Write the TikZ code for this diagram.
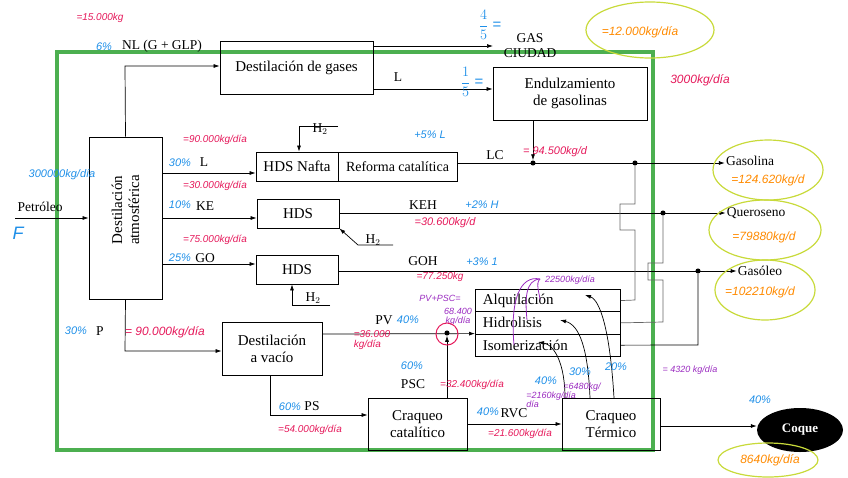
\documentclass[tikz,border=0pt]{standalone}
\usepackage{fontspec}
\setmainfont{Liberation Serif}
\newfontfamily\hand{Liberation Sans}
\usetikzlibrary{arrows.meta,shapes.geometric}
\definecolor{hb}{HTML}{1E8FE8}
\definecolor{hp}{HTML}{E5185A}
\definecolor{ho}{HTML}{FF8A00}
\definecolor{hv}{HTML}{9A2BC0}
\definecolor{hy}{HTML}{C8DA3A}
\definecolor{gr}{HTML}{4CAF50}
\begin{document}
\begin{tikzpicture}[x=1pt,y=-1pt,
  box/.style={draw,line width=0.8pt,inner sep=0pt,align=center,font=\fontsize{15}{17}\selectfont},
  lbl/.style={inner sep=1pt,font=\fontsize{13.5}{15}\selectfont},
  ln/.style={line width=0.7pt},
  ar/.style={line width=0.7pt,-{Latex[length=6pt,width=4pt]}},
  gl/.style={line width=0.7pt,draw=black!60},
  dot/.style={circle,fill,inner sep=1.8pt},
  B/.style={text=hb,inner sep=0pt,font=\hand\itshape\fontsize{11}{11}\selectfont},
  P/.style={text=hp,inner sep=0pt,font=\hand\itshape\fontsize{10}{10}\selectfont},
  O/.style={text=ho,inner sep=0pt,font=\hand\itshape\fontsize{12}{12}\selectfont},
  V/.style={text=hv,inner sep=0pt,font=\hand\itshape\fontsize{9}{9}\selectfont},
  ov/.style={draw=hy,line width=1.2pt}]
\useasboundingbox (0,0) rectangle (848,477);
% green frame
\draw[gr,line width=3.5pt] (57,52) rectangle (653,450);
% boxes
\node[box,minimum width=153pt,minimum height=53pt] (dg) at (296.5,67.5) {Destilación de gases};
\node[box,minimum width=154pt,minimum height=53pt] (en) at (570,93.5) {Endulzamiento\\de gasolinas};
\node[box,minimum width=73pt,minimum height=162pt] (da) at (125.5,218) {};
\node[rotate=90,align=center,font=\fontsize{15}{17}\selectfont] (dat) at (125.5,210) {Destilación\\atmosférica};
\node[box,minimum width=82pt,minimum height=29pt] (hn) at (297,166.5) {HDS Nafta};
\node[box,minimum width=119pt,minimum height=29pt,font=\fontsize{14}{16}\selectfont] (rc) at (397.5,166.5) {Reforma catalítica};
\node[box,minimum width=82pt,minimum height=29pt] (h1) at (298,213.5) {HDS};
\node[box,minimum width=82pt,minimum height=29pt] (h2) at (297,269.5) {HDS};
\node[box,minimum width=100pt,minimum height=53pt] (dv) at (272,348.5) {Destilación\\a vacío};
\node[box,minimum width=99pt,minimum height=52pt] (cc) at (417.5,424) {Craqueo\\catalítico};
\node[box,minimum width=98pt,minimum height=52pt] (ct) at (611,424) {Craqueo\\Térmico};
\node[box,minimum width=145pt,minimum height=22.3pt,anchor=north west,text width=140pt,align=left] (al) at (475,289) {~Alquilación};
\node[box,minimum width=145pt,minimum height=22.3pt,anchor=north west,text width=140pt,align=left] (hi) at (475,311.3) {~Hidrolisis};
\node[box,minimum width=145pt,minimum height=22.3pt,anchor=north west,text width=140pt,align=left] (is) at (475,333.6) {~Isomerización};
\node[ellipse,fill=black,minimum width=86pt,minimum height=44pt,text=white,font=\bfseries\fontsize{13}{15}\selectfont] (co) at (800,430) {Coque};
% labels
\node[lbl] (gas) at (750,161) {Gasolina};
\node[lbl] (que) at (756,213) {Queroseno};
\node[lbl] (gso) at (760,271) {Gasóleo};
\node[lbl,align=center] (gc) at (530,46) {GAS\\CIUDAD};
\node[lbl] (pet) at (40,207) {Petróleo};
\node[lbl] at (162,46) {NL (G + GLP)};
\node[lbl] at (398,77) {L};
\node[lbl] at (204,162) {L};
\node[lbl] at (205,206) {KE};
\node[lbl] at (205,258) {GO};
\node[lbl] at (100,331) {P};
\node[lbl] at (495,155) {LC};
\node[lbl] at (423,205) {KEH};
\node[lbl] at (423,261) {GOH};
\node[lbl] at (384,320) {PV};
\node[lbl] at (413,384) {PSC};
\node[lbl] at (312,406) {PS};
\node[lbl] at (514,413) {RVC};
\node[lbl] at (320,129) {H$_2$};
\node[lbl] at (373,240) {H$_2$};
\node[lbl] at (313,298) {H$_2$};
% coordinates
\coordinate (pin) at (15,218);
\coordinate (dl) at (533,163);
\coordinate (dq) at (663,213);
\coordinate (dgo) at (698,271);
\coordinate (dp) at (447,333);
\node[dot] (d1) at (dl) {};
\node[dot] (d2) at (635,163) {};
\node[dot] (d3) at (dq) {};
\node[dot] (d4) at (dgo) {};
\node[dot] (d5) at (dp) {};
% connectors
\draw[ar] (pin) -- (da.west |- pin);
\draw[ar] (da.north) -- (125,66) -- (dg.west |- 0,66);
\draw[ar] (dg.east |- 0,46) -- (493,46);
\draw[ar] (dg.east |- 0,89) -- (en.west |- 0,89);
\draw[ar] (en.south -| dl) -- (d1);
\draw[ar] (da.east |- 0,173) -- (hn.west |- 0,173);
\draw[ar] (rc.east |- 0,163) -- (gas.west |- 0,163);
\draw[ar] (da.east |- 0,218) -- (h1.west |- 0,218);
\draw[ar] (h1.east |- 0,213) -- (que.west |- 0,213);
\draw[ar] (da.east |- 0,264) -- (h2.west |- 0,264);
\draw[ar] (h2.east |- 0,271) -- (gso.west |- 0,271);
\draw[ar] (da.south) -- (125,351) -- (dv.west |- 0,351);
\draw[ar] (dv.east |- 0,334) -- (is.north west);
\draw[ar] (cc.north -| dp) -- (d5);
\draw[ar] (dv.south -| 270,0) -- (270,415) -- (cc.west |- 0,415);
\draw[ar] (cc.east |- 0,424) -- (ct.west |- 0,424);
\draw[ar] (ct.east |- 0,426) -- (co.west |- 0,426);
\draw[ar] (338,126) -- (299,126) -- (hn.north -| 299,0);
\draw[ar] (393,245) -- (358,245) -- (h1.south east);
\draw[ar] (330,305) -- (292,305) -- (h2.south -| 292,0);
% recycle lines
\draw[gl] (al.east) -- (635,300) -- (635,230) -- (620,230) -- (620,204) -- (635,204) -- (d2);
\draw[gl] (hi.east) -- (663,322) -- (663,280) -- (648,280) -- (648,263) -- (663,263) -- (d3);
\draw[ln] (is.east) -- (698,345) -- (d4);
% curved arrows from thermal cracking
\draw[ar] (614,398) .. controls (610,330) and (600,300) .. (585,295);
\draw[ar] (590,398) .. controls (588,350) and (580,325) .. (560,320);
\draw[ar] (565,398) .. controls (565,365) and (555,345) .. (538,342);
% hand annotations
\node[P] at (100,18) {=15.000kg};
\node[P] at (215,140) {=90.000kg/día};
\node[P] at (215,186) {=30.000kg/día};
\node[P] at (215,240) {=75.000kg/día};
\node[P,font=\hand\itshape\fontsize{12}{12}\selectfont] at (165,332) {= 90.000kg/día};
\node[P,align=left] at (372,340) {=36.000\\kg/día};
\node[P] at (310,430) {=54.000kg/día};
\node[P] at (472,385) {=32.400kg/día};
\node[P] at (520,434) {=21.600kg/día};
\node[P,font=\hand\itshape\fontsize{11}{11}\selectfont] at (555,152) {= 94.500kg/d};
\node[P,font=\hand\itshape\fontsize{11}{11}\selectfont] at (445,223) {=30.600kg/d};
\node[P] at (440,277) {=77.250kg};
\node[P,font=\hand\itshape\fontsize{12}{12}\selectfont] at (700,80) {3000kg/día};
\node[B] at (104,47) {6\%};
\node[B,font=\hand\itshape\fontsize{15}{15}\selectfont] at (490,25) {$\displaystyle\frac{4}{5}$ =};
\node[B,font=\hand\itshape\fontsize{15}{15}\selectfont] at (472,82) {$\displaystyle\frac{1}{5}$ =};
\node[B] at (62,175) {300000kg/día};
\node[B,font=\hand\itshape\fontsize{18}{18}\selectfont] at (18,233) {F};
\node[B] at (180,163) {30\%};
\node[B] at (180,205) {10\%};
\node[B] at (180,258) {25\%};
\node[B] at (430,135) {+5\% L};
\node[B] at (482,205) {+2\% H};
\node[B] at (482,262) {+3\% 1};
\node[B] at (76,331) {30\%};
\node[B] at (408,320) {40\%};
\node[B] at (412,366) {60\%};
\node[B] at (290,407) {60\%};
\node[B] at (488,412) {40\%};
\node[B] at (546,381) {40\%};
\node[B] at (580,372) {30\%};
\node[B] at (616,367) {20\%};
\node[B] at (760,400) {40\%};
\node[O] at (640,32) {=12.000kg/día};
\node[O] at (768,180) {=124.620kg/d};
\node[O] at (764,237) {=79880kg/d};
\node[O] at (760,292) {=102210kg/d};
\node[O] at (770,460) {8640kg/día};
\node[V] at (440,298) {PV+PSC=};
\node[V,align=center] at (458,317) {68.400\\kg/día};
\node[V] at (570,280) {22500kg/día};
\node[V,align=left] at (545,400) {=2160kg/\\día};
\node[V,align=left] at (582,391) {=6480kg/\\día};
\node[V] at (690,370) {= 4320 kg/día};
\draw[hv,line width=0.8pt] (540,279) .. controls (520,275) and (510,300) .. (514,345);
\draw[hv,line width=0.8pt] (540,279) .. controls (525,280) and (525,300) .. (527,320);
\draw[hv,line width=0.8pt] (540,279) .. controls (535,283) and (540,295) .. (540,300);
% ovals
\draw[ov] (650,30) ellipse (64pt and 28pt);
\draw[ov] (768,170) ellipse (55pt and 30pt);
\draw[ov] (765,230) ellipse (56pt and 30pt);
\draw[ov] (765,290) ellipse (50pt and 30pt);
\draw[ov] (768,460) ellipse (50pt and 17pt);
\draw[hp,line width=1pt] (447,334) circle (11pt);
\end{tikzpicture}
\end{document}
